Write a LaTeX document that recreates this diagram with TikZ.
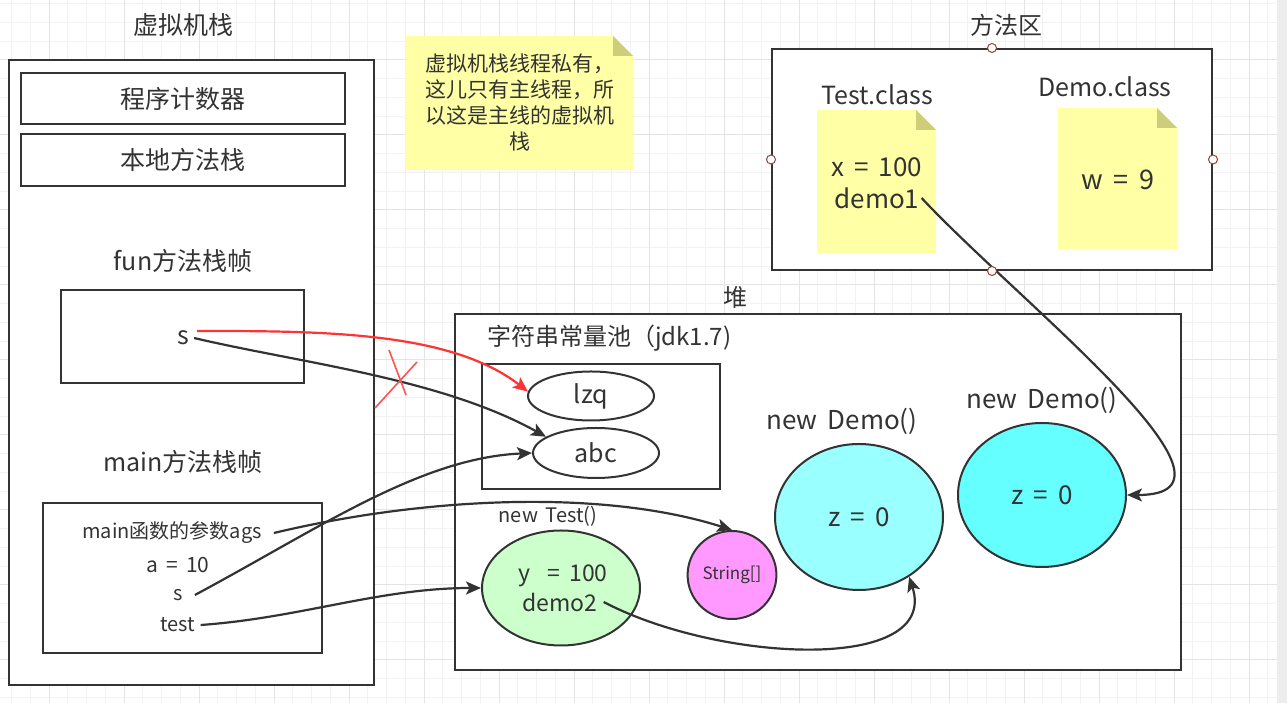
\documentclass[tikz,border=0pt]{standalone}
\usepackage{fontspec}
\setmainfont[WordSpace=1.7]{Noto Sans CJK SC}
\usepackage{xcolor}
\usepackage{tikz}
\usetikzlibrary{shapes.geometric, arrows.meta, calc}

\definecolor{ink}{HTML}{333333}
\definecolor{notefill}{HTML}{FFFFA6}
\definecolor{notefold}{HTML}{CDCD7A}
\definecolor{objgreen}{HTML}{CCFFCC}
\definecolor{objpink}{HTML}{FF99FF}
\definecolor{objcyan}{HTML}{99FFFF}
\definecolor{objcyandeep}{HTML}{66FFFF}
\definecolor{refred}{HTML}{FF3333}
\definecolor{gridminor}{HTML}{F2F2F2}
\definecolor{gridmajor}{HTML}{E4E4E4}
\definecolor{handlered}{HTML}{A33A3A}

\begin{document}
\begin{tikzpicture}[
    x=1pt, y=1pt,
    frame/.style={rectangle, draw=ink, line width=2pt, fill=white, inner sep=0pt},
    obj/.style={ellipse, draw=ink, line width=2pt, inner sep=0pt, fill=#1},
    lbl/.style={text=ink, inner sep=2pt, font=\fontsize{#1}{#1}\selectfont},
    notetext/.style={text=ink, align=center, font=\fontsize{21}{26}\selectfont},
    ref/.style={-{Stealth[length=15pt, width=13pt, inset=3.5pt]}, draw=ink, line width=2.2pt},
    cross/.style={draw=refred!85, line width=1.6pt},
    handle/.style={circle, draw=handlered, fill=white, line width=1pt, minimum size=9pt, inner sep=0pt},
]
\useasboundingbox (0,0) rectangle (1287,703);

% Canvas grid
\fill[white] (0,0) rectangle (1287,703);
\fill[black!7] (1277,0) rectangle (1287,703);
\foreach \gx in {11.5,30.25,...,1277} \draw[gridminor, line width=1pt] (\gx,0) -- (\gx,703);
\foreach \gy in {699.25,680.5,...,0} \draw[gridminor, line width=1pt] (0,\gy) -- (1277,\gy);
\foreach \gx in {49,124,...,1277} \draw[gridmajor, line width=1pt] (\gx,0) -- (\gx,703);
\foreach \gy in {643,568,...,0} \draw[gridmajor, line width=1pt] (0,\gy) -- (1277,\gy);

% Virtual machine stack
\node[lbl=25] (vmtitle) at (183,678) {虚拟机栈};
\node[frame, minimum width=365pt, minimum height=625pt] (vm) at (191.5,330.5) {};
\node[frame, lbl=25, minimum width=324pt, minimum height=51pt] (pc) at (183,604.5) {程序计数器};
\node[frame, lbl=25, minimum width=324pt, minimum height=52pt] (native) at (183,543) {本地方法栈};

\node[lbl=25] (funtitle) at (183,442) {fun方法栈帧};
\node[frame, minimum width=243pt, minimum height=93pt] (fun) at (182.5,366.5) {};
\node[lbl=25] (funs) at (183,365) {s};

\node[lbl=25] (maintitle) at (183,241) {main方法栈帧};
\node[frame, minimum width=279pt, minimum height=150pt] (main) at (182.5,125) {};
\node[lbl=20] (ags) at (172,170) {main函数的参数ags};
\node[lbl=21] (aval) at (178,138) {a = 10};
\node[lbl=20] (ms) at (178,108) {s};
\node[lbl=20] (test) at (178,78) {test};

% Note
\fill[notefill] (406,667) -- (613,667) -- (633,647) -- (633,533) -- (406,533) -- cycle;
\fill[notefold] (613,667) -- (613,647) -- (633,647) -- cycle;
\node[notetext] (tip) at (519.5,600) {虚拟机栈线程私有，\\这儿只有主线程，所\\以这是主线的虚拟机\\栈};

% Method area
\node[lbl=24] (matitle) at (1006,678) {方法区};
\node[frame, minimum width=440pt, minimum height=221pt] (ma) at (992,543.5) {};
\node[lbl=25] (testcls) at (877,608) {Test.class};
\fill[notefill] (817,593) -- (916,593) -- (936,573) -- (936,450) -- (817,450) -- cycle;
\fill[notefold] (916,593) -- (916,573) -- (936,573) -- cycle;
\node[lbl=26] (xval) at (877,536) {x = 100};
\node[lbl=26] (demoref1) at (877,505) {demo1};
\node[lbl=25] (democls) at (1105,616) {Demo.class};
\fill[notefill] (1058,595) -- (1157,595) -- (1177,575) -- (1177,454) -- (1058,454) -- cycle;
\fill[notefold] (1157,595) -- (1157,575) -- (1177,575) -- cycle;
\node[lbl=27] (wval) at (1118,523) {w = 9};

% Heap
\node[lbl=24] (heaptitle) at (735,406) {堆};
\node[frame, minimum width=726pt, minimum height=356pt] (heap) at (818,211) {};
\node[lbl=24, anchor=west] (pooltitle) at (485,365) {字符串常量池（jdk1.7)};
\node[frame, minimum width=238pt, minimum height=125pt] (pool) at (601,276.5) {};
\node[obj=white, lbl=25, minimum width=126pt, minimum height=49pt] (lzq) at (591,307) {lzq};
\node[obj=white, lbl=25, minimum width=126pt, minimum height=50pt] (abc) at (596,250) {abc};

\node[lbl=20] (testnew) at (548,187) {new Test()};
\node[obj=objgreen, minimum width=158pt, minimum height=115pt] (objtest) at (561,115) {};
\node[lbl=23] (yval) at (563,127) {y\ \ = 100};
\node[lbl=23] (demoref2) at (560,101) {demo2};
\node[obj=objpink, lbl=17, minimum size=88pt] (arr) at (732,128) {String[]};

\node[lbl=26] (demonew1) at (842,282) {new Demo()};
\node[obj=objcyan, lbl=26, minimum width=168pt, minimum height=146pt] (objdemoa) at (859,186) {z = 0};
\node[lbl=26] (demonew2) at (1042,303) {new Demo()};
\node[obj=objcyandeep, lbl=26, minimum width=168pt, minimum height=144pt] (objdemob) at (1042,208) {z = 0};

% References
\draw[ref, draw=refred] ([shift={(6pt,7pt)}]funs.east) .. controls (320,372) and (450,372) .. (lzq.176);
\draw[ref] ([xshift=3pt]funs.east) .. controls (300,340) and (440,325) .. (abc.162);
\draw[ref] ([xshift=10pt]ms.east) .. controls (320,175) and (420,245) .. (abc.west);
\draw[ref] ([xshift=10pt]ags.east) .. controls (420,205) and (600,215) .. (arr.north);
\draw[ref] ([xshift=3pt]test.east) .. controls (300,85) and (380,115) .. (objtest.west);
\draw[ref] ([xshift=4pt]demoref2.east) .. controls (720,40) and (940,30) .. (objdemoa.-50);
\draw[ref] (demoref1.east) to[out=-47, in=0] (objdemob.east);

% crossed out
\draw[cross] (375,295) -- (417,341);
\draw[cross] (389,353) -- (406,308);

% selection handles
\foreach \a in {north, south, east, west} \node[handle] (ma-\a) at (ma.\a) {};

\end{tikzpicture}
\end{document}
